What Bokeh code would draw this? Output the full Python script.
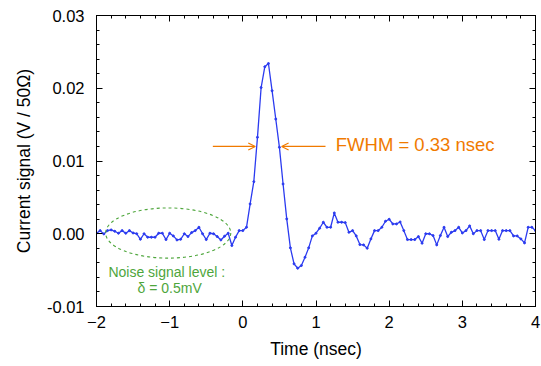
from bokeh.plotting import figure
from bokeh.embed import file_html
from bokeh.resources import INLINE
from bokeh.models import (Range1d, LinearAxis, SingleIntervalTicker, NumeralTickFormatter,
                          Label, Arrow, OpenHead, CustomLabelingPolicy)

# Time samples (nsec)
time_ns = [-2.0, -1.95, -1.9, -1.85, -1.8, -1.75, -1.7, -1.65, -1.6, -1.55,
           -1.5, -1.45, -1.4, -1.35, -1.3, -1.25, -1.2, -1.15, -1.1, -1.05,
           -1.0, -0.95, -0.9, -0.85, -0.8, -0.75, -0.7, -0.65, -0.6, -0.55,
           -0.5, -0.45, -0.4, -0.35, -0.3, -0.25, -0.2, -0.15, -0.1, -0.05,
           0.0, 0.05, 0.1, 0.15, 0.2, 0.25, 0.3, 0.35, 0.4, 0.45,
           0.5, 0.55, 0.6, 0.65, 0.7, 0.75, 0.8, 0.85, 0.9, 0.95,
           1.0, 1.05, 1.1, 1.15, 1.2, 1.25, 1.3, 1.35, 1.4, 1.45,
           1.5, 1.55, 1.6, 1.65, 1.7, 1.75, 1.8, 1.85, 1.9, 1.95,
           2.0, 2.05, 2.1, 2.15, 2.2, 2.25, 2.3, 2.35, 2.4, 2.45,
           2.5, 2.55, 2.6, 2.65, 2.7, 2.75, 2.8, 2.85, 2.9, 2.95,
           3.0, 3.05, 3.1, 3.15, 3.2, 3.25, 3.3, 3.35, 3.4, 3.45,
           3.5, 3.55, 3.6, 3.65, 3.7, 3.75, 3.8, 3.85, 3.9, 3.95,
           4.0]

# Current signal (mV / 50 Ohm)
signal_mv = [0.07, 0.43, -0.02, 0.43, 0.53, 0.34, 0.07, 0.43, 0.07, 0.43,
             0.11, 0.0, -0.76, 0.0, -0.48, -0.48, -0.48, 0.07, 0.07, -0.8,
             0.07, -0.3, -0.85, -0.76, 0.0, -0.39, 0.16, 0.43, 0.89, 0.0,
             -0.8, 0.07, 0.0, -0.39, -0.85, -0.34, 0.07, -1.62, -0.48, 0.43,
             0.43, 0.89, 4.1, 7.16, 13.25, 20.1, 22.95, 23.4, 19.65, 15.77,
             11.88, 6.84, 2.04, -1.94, -4.14, -4.74, -4.37, -3.23, -1.94, -0.3,
             0.07, 0.76, 1.58, 0.89, 0.89, 2.86, 1.58, 1.58, 1.53, 0.2,
             0.43, -0.3, -1.49, -1.53, -1.99, -0.71, 0.43, 0.43, 0.89, 1.72,
             1.99, 1.35, 1.35, 1.62, 0.43, -0.8, -0.8, -0.8, -0.39, -1.3,
             0.0, 0.0, -0.25, -1.53, -0.25, 0.89, -0.39, 0.2, 0.43, 0.89,
             0.11, 0.43, 1.08, 0.0, 0.43, 0.43, -0.8, 0.43, 0.43, 0.43,
             -0.76, 0.43, 0.43, 0.43, -0.3, -0.3, -0.71, -1.26, 0.89, 0.89,
             0.43]

signal_v = [v / 1000.0 for v in signal_mv]

x_ticks_interval = 1
y_ticks_interval = 0.01

FONT = "Liberation Sans"
BLUE = "#2b3bf0"
ORANGE = "#f07a00"
GREEN = "#4ea63c"

p = figure(width=541, height=366, output_backend="svg", toolbar_location=None,
           x_range=Range1d(-2, 4), y_range=Range1d(-0.01, 0.03),
           min_border_left=96, min_border_right=4, min_border_top=15, min_border_bottom=60,
           x_axis_label="Time (nsec)", y_axis_label="Current signal (V / 50Ω)")
p.background_fill_color = "white"
p.border_fill_color = "white"
p.outline_line_color = "black"
p.outline_line_width = 1
p.xgrid.visible = False
p.ygrid.visible = False

xt = SingleIntervalTicker(interval=x_ticks_interval, num_minor_ticks=5)
yt = SingleIntervalTicker(interval=y_ticks_interval, num_minor_ticks=5)

p.xaxis.ticker = xt
p.yaxis.ticker = yt
p.yaxis.formatter = NumeralTickFormatter(format="0.00")

for ax in (p.xaxis, p.yaxis):
    ax.major_tick_in = 6
    ax.major_tick_out = 0
    ax.minor_tick_in = 3
    ax.minor_tick_out = 0
    ax.axis_line_color = "black"
    ax.major_tick_line_color = "black"
    ax.minor_tick_line_color = "black"
    ax.major_label_text_font = FONT
    ax.major_label_text_font_size = "16.5px"
    ax.major_label_text_color = "black"
    ax.axis_label_text_font = FONT
    ax.axis_label_text_font_size = "17.5px"
    ax.axis_label_text_font_style = "normal"
    ax.axis_label_text_color = "black"

p.xaxis.major_label_standoff = 9
p.yaxis.major_label_standoff = 12
p.xaxis.axis_label_standoff = 8
p.yaxis.axis_label_standoff = 10

# mirrored tick axes on top and right (ticks only, no labels)
hide_all = CustomLabelingPolicy(
    code="for (const i of Array.from(indices.ones())) { indices.unset(i) }; return indices")
top_ax = LinearAxis(ticker=SingleIntervalTicker(interval=x_ticks_interval, num_minor_ticks=5))
right_ax = LinearAxis(ticker=SingleIntervalTicker(interval=y_ticks_interval, num_minor_ticks=5))
for ax in (top_ax, right_ax):
    ax.major_tick_in = 6
    ax.major_tick_out = 0
    ax.minor_tick_in = 3
    ax.minor_tick_out = 0
    ax.major_label_text_font_size = "1px"
    ax.major_label_standoff = 0
    ax.major_label_policy = hide_all
    ax.axis_line_color = "black"
p.add_layout(top_ax, "above")
p.add_layout(right_ax, "right")

# signal trace
p.line(time_ns, signal_v, line_color=BLUE, line_width=1.3)
p.scatter(time_ns, signal_v, size=2, fill_color=BLUE, line_color=BLUE)

# noise ellipse
p.ellipse(x=[-1.02], y=[0.0001], width=[1.71], height=[0.0069],
          fill_color=None, line_color=GREEN, line_dash="3 3", line_width=1.1)

p.add_layout(Label(x=-1.04, y=-0.0052, text="Noise signal level :", text_font=FONT,
                   text_font_size="14px", text_color=GREEN, text_align="center",
                   text_baseline="middle"))
p.add_layout(Label(x=-1.0, y=-0.0075, text="δ = 0.5mV", text_font=FONT,
                   text_font_size="14px", text_color=GREEN, text_align="center",
                   text_baseline="middle"))

# FWHM arrows
fw_y = 0.012
p.add_layout(Arrow(end=OpenHead(size=7, line_color=ORANGE, line_width=1.2),
                   x_start=-0.41, y_start=fw_y, x_end=0.17, y_end=fw_y,
                   line_color=ORANGE, line_width=1.2))
p.add_layout(Arrow(end=OpenHead(size=7, line_color=ORANGE, line_width=1.2),
                   x_start=1.13, y_start=fw_y, x_end=0.53, y_end=fw_y,
                   line_color=ORANGE, line_width=1.2))
p.add_layout(Label(x=1.27, y=0.0123, text="FWHM = 0.33 nsec", text_font=FONT,
                   text_font_size="18.5px", text_color=ORANGE, text_align="left",
                   text_baseline="middle"))

open("out.html", "w").write(file_html(p, INLINE))
